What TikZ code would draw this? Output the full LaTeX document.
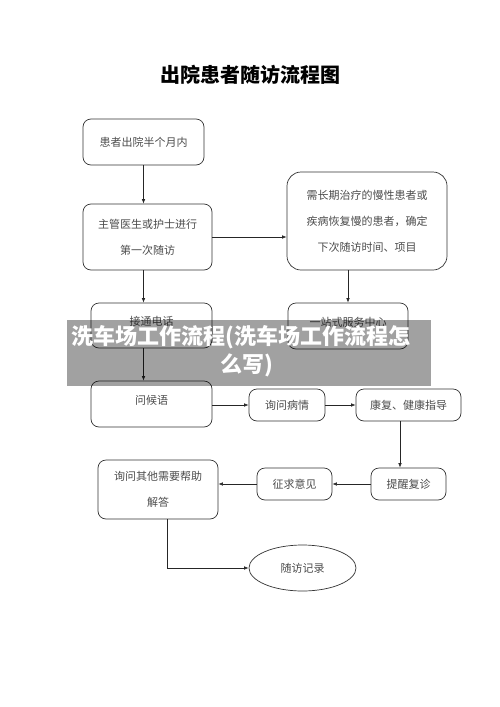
\documentclass[tikz,border=0pt]{standalone}
\usepackage{fontspec}
\newfontfamily\cjk{Noto Sans CJK SC}
\usetikzlibrary{shapes.geometric,arrows.meta,calc}
\begin{document}
\begin{tikzpicture}[x=1pt,y=-1pt,
  box/.style={draw=black!80,line width=0.7pt,rounded corners=8pt,inner sep=0pt,
    font=\cjk\fontsize{11}{26}\selectfont,text=black!70,align=center},
  arr/.style={draw=black!85,line width=0.6pt,-{Latex[length=4.5pt,width=3.5pt]}},
  ln/.style={draw=black!85,line width=0.6pt}]
\useasboundingbox (0,0) rectangle (500,707);
\fill[white] (0,0) rectangle (500,707);
\node[font=\cjk\bfseries\fontsize{20}{24}\selectfont] (title) at (250,75) {出院患者随访流程图};
\node[box,minimum width=121pt,minimum height=46pt] (b1) at (143.5,142) {患者出院半个月内};
\node[box,minimum width=129pt,minimum height=66pt] (b2) at (147.5,237) {主管医生或护士进行\\第一次随访};
\node[box,rounded corners=14pt,minimum width=160pt,minimum height=98pt] (r1) at (367,221) {需长期治疗的慢性患者或\\疾病恢复慢的患者，确定\\下次随访时间、项目};
\node[box,minimum width=121pt,minimum height=45pt,text depth=9pt] (b3) at (151.5,325.5) {接通电话};
\node[box,minimum width=120pt,minimum height=46pt,text depth=9pt] (r2) at (348,326) {一站式服务中心};
\node[box,minimum width=121pt,minimum height=46pt,text depth=9pt] (b4) at (151.5,404) {问候语};
\node[box,minimum width=76pt,minimum height=32pt] (b5) at (287,405) {询问病情};
\node[box,minimum width=105pt,minimum height=32pt] (b6) at (408.5,405) {康复、健康指导};
\node[box,minimum width=75pt,minimum height=32pt] (b7) at (408.5,484) {提醒复诊};
\node[box,minimum width=75pt,minimum height=32pt] (b8) at (294.5,484) {征求意见};
\node[box,minimum width=120pt,minimum height=59pt] (b9) at (158,489.5) {询问其他需要帮助\\解答};
\node[box,ellipse,minimum width=107pt,minimum height=46pt] (e1) at (302.5,568) {随访记录};
\coordinate (cx1) at (143.5,0);
\coordinate (cx2) at (400,0);
\coordinate (cx3) at (167,0);
\draw[arr] (b1.south) -- (b2.north -| b1.south);
\draw[arr] (b2.east |- 0,237) -- (r1.west |- 0,237);
\draw[arr] (r2.north |- r1.south) -- (r2.north);
\draw[arr] (b2.south -| cx1) -- (b3.north -| cx1);
\draw[arr] (b3.south -| cx1) -- (b4.north -| cx1);
\draw[arr] (b4.east |- b5.west) -- (b5.west);
\draw[arr] (b5.east) -- (b6.west);
\draw[arr] (b6.south -| cx2) -- (b7.north -| cx2);
\draw[arr] (b7.west) -- (b8.east);
\draw[arr] (b8.west) -- (b9.east |- b8.west);
\draw[arr] (b9.south -| cx3) |- (e1.west);
\fill[black,opacity=0.37] (67,320) rectangle (431,386);
\node[text=white,font=\cjk\bfseries\fontsize{22}{28}\selectfont] (bt1) at (241,337) {洗车场工作流程(洗车场工作流程怎};
\node[text=white,font=\cjk\bfseries\fontsize{22}{28}\selectfont] (bt2) at (247,365) {么写)};
\end{tikzpicture}
\end{document}
